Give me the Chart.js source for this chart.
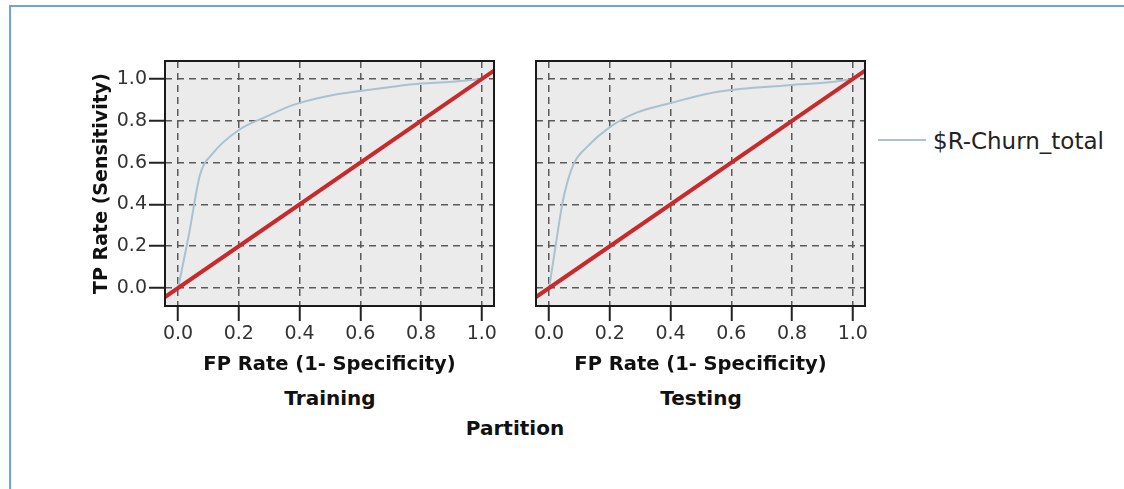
<!DOCTYPE html>
<html>
<head>
<meta charset="utf-8">
<script src="https://cdn.jsdelivr.net/npm/chart.js@4.4.1/dist/chart.umd.min.js"></script>
<style>
	body{margin:0;background:#fff;width:1124px;height:489px;overflow:hidden;position:relative;font-family:"DejaVu Sans",sans-serif;}
	#box{position:absolute;left:9px;top:5px;width:1300px;height:700px;border-top:2px solid #6fa3e0;border-left:2px solid #6fa3e0;}
	canvas{position:absolute;}
	#roc_train{left:85px;top:45px;}
	#roc_test{left:516px;top:45px;}
	.part{position:absolute;width:240px;text-align:center;font-weight:bold;font-size:20px;line-height:24px;color:#111;}
	#leg_line{position:absolute;left:878px;top:139px;width:48px;border-top:2px solid #a9c1d0;}
	#leg_text{position:absolute;left:933px;top:127px;font-size:23px;line-height:28px;color:#222;}
</style>
</head>
<body>
<div id="box"></div>
<canvas id="roc_train" width="420" height="335"></canvas>
<canvas id="roc_test" width="360" height="335"></canvas>
<div class="part" id="lbl_train" style="left:210px;top:386px;"></div>
<div class="part" id="lbl_test" style="left:581px;top:386px;"></div>
<div class="part" id="lbl_part" style="left:395px;top:416px;"></div>
<div id="leg_line"></div>
<div id="leg_text"></div>
<script>
	// tick labels
	const xTicks = [0, 0.2, 0.4, 0.6, 0.8, 1.0];
	const yTicks = [0, 0.2, 0.4, 0.6, 0.8, 1.0];

	// ROC curves
	const trainFpr = [0, 0.035, 0.072, 0.115, 0.2, 0.29, 0.38, 0.51, 0.6, 0.7, 0.8, 0.89, 1.0];
	const trainTpr = [0, 0.25, 0.54, 0.645, 0.756, 0.82, 0.876, 0.923, 0.943, 0.962, 0.978, 0.985, 1.0];
	const testFpr  = [0, 0.013, 0.046, 0.08, 0.125, 0.2, 0.29, 0.4, 0.56, 0.79, 0.93, 1.0];
	const testTpr  = [0, 0.12, 0.42, 0.59, 0.675, 0.77, 0.84, 0.885, 0.94, 0.97, 0.985, 1.0];

	// reference diagonal, runs past both ends of the plot
	const diagonal = [-0.1, 1.1];

	const seriesName = '$R-Churn_total';
	const partitions = ['Training', 'Testing'];
	const groupTitle = 'Partition';

	const fontFamily = '"DejaVu Sans", sans-serif';

	const panelFrame = {
		id: 'panelFrame',
		beforeDraw(chart){
			const a = chart.chartArea;
			const ctx = chart.ctx;
			ctx.save();
			ctx.fillStyle = '#ebebeb';
			ctx.fillRect(a.left, a.top, a.right - a.left, a.bottom - a.top);
			ctx.restore();
		},
		afterDatasetsDraw(chart){
			const a = chart.chartArea;
			const ctx = chart.ctx;
			ctx.save();
			ctx.strokeStyle = '#1a1a1a';
			ctx.lineWidth = 2;
			ctx.strokeRect(a.left, a.top, a.right - a.left, a.bottom - a.top);
			ctx.restore();
		}
	};

	function makePanel(id, fpr, tpr, showY){
		const ctx = document.getElementById(id).getContext('2d');
		return new Chart(ctx, {
			type: 'scatter',
			data: {
				datasets: [{
					label: 'diagonal',
					data: diagonal.map(v => ({x: v, y: v})),
					showLine: true,
					borderColor: '#c8292b',
					borderWidth: 4,
					pointRadius: 0,
					clip: 0
				}, {
					label: seriesName,
					data: fpr.map((v, i) => ({x: v, y: tpr[i]})),
					showLine: true,
					borderColor: '#a9c1d0',
					borderWidth: 2,
					pointRadius: 0,
					cubicInterpolationMode: 'monotone',
					clip: 0
				}]
			},
			options: {
				responsive: false,
				animation: false,
				events: [],
				// top padding large enough that the y labels never push the plot down
				layout: {padding: {top: 16, right: 11, left: 0, bottom: 0}},
				plugins: {legend: {display: false}, tooltip: {enabled: false}},
				scales: {
					x: {
						type: 'linear',
						min: -0.043,
						max: 1.04,
						afterBuildTicks: s => { s.ticks = xTicks.map(v => ({value: v})); },
						afterFit: s => { s.height = 74; },
						border: {display: false, dash: [7, 5]},
						grid: {color: '#5a5a5a', lineWidth: 1.5, tickLength: 15, tickColor: '#222', tickWidth: 2, tickBorderDash: []},
						ticks: {
							color: '#333',
							padding: 2,
							maxRotation: 0,
							font: {family: fontFamily, size: 19},
							callback: v => Number(v).toFixed(1)
						},
						title: {
							display: true,
							text: 'FP Rate (1- Specificity)',
							color: '#111',
							padding: {top: 0, bottom: 3},
							font: {family: fontFamily, size: 19.5, weight: 'bold'}
						}
					},
					y: {
						type: 'linear',
						min: -0.086,
						max: 1.086,
						afterBuildTicks: s => { s.ticks = yTicks.map(v => ({value: v})); },
						afterFit: s => { s.width = showY ? 80 : 20; },
						border: {display: false, dash: [7, 5]},
						grid: {color: '#5a5a5a', lineWidth: 1.5, drawTicks: showY, tickLength: 16, tickColor: '#222', tickWidth: 2, tickBorderDash: []},
						ticks: {
							display: showY,
							color: '#333',
							padding: 2,
							font: {family: fontFamily, size: 19},
							callback: v => Number(v).toFixed(1)
						},
						title: {
							display: showY,
							text: 'TP Rate (Sensitivity)',
							color: '#111',
							padding: {top: 6, bottom: 0},
							font: {family: fontFamily, size: 19, weight: 'bold'}
						}
					}
				}
			},
			plugins: [panelFrame]
		});
	}

	makePanel('roc_train', trainFpr, trainTpr, true);
	makePanel('roc_test', testFpr, testTpr, false);

	document.getElementById('lbl_train').textContent = partitions[0];
	document.getElementById('lbl_test').textContent = partitions[1];
	document.getElementById('lbl_part').textContent = groupTitle;
	document.getElementById('leg_text').textContent = seriesName;
</script>
</body>
</html>
